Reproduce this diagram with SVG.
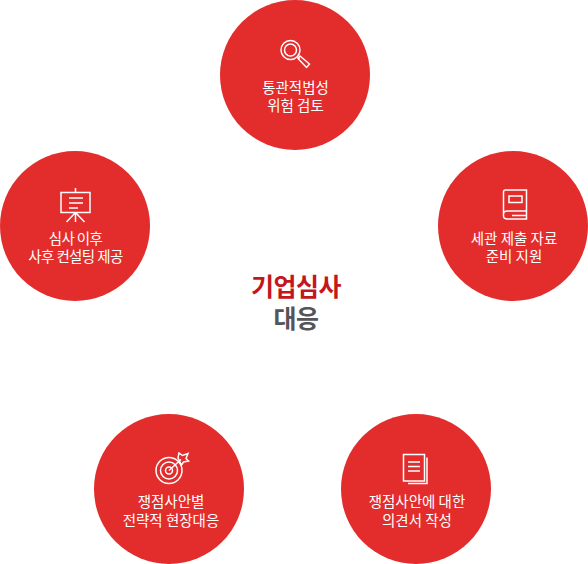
<svg xmlns="http://www.w3.org/2000/svg" width="588" height="564" viewBox="0 0 588 564">
<style>
.c{fill:#e32d2c}
.t{font-family:"Noto Sans CJK KR","Noto Sans",sans-serif;font-size:14.500px;fill:#fff;text-anchor:middle}
.n{letter-spacing:-.6px}
.i{fill:none;stroke:#fff;stroke-width:1.5}
.h{font-family:"Noto Sans CJK KR","Noto Sans",sans-serif;font-size:25px;font-weight:700;text-anchor:middle;letter-spacing:-.5px}
</style>
<g id="connectors"></g>
<g id="center"><text class="h" x="296" y="296" fill="#c4161c">기업심사</text><text class="h" x="296" y="328" fill="#555459" font-weight="500">대응</text></g>
<g id="node-top"><circle class="c" cx="295" cy="75" r="75"/>
<g class="i"><circle cx="290.500" cy="50" r="9.500"/><circle cx="290.500" cy="50" r="6"/><path d="M297.500 57l2 2M300 56l9.500 8-3 3.500-8.500-9z"/></g>
<text class="t" x="295.500" y="92.500">통관적법성</text><text class="t" x="295.500" y="110.500">위험 검토</text></g>
<g id="node-right"><circle class="c" cx="513" cy="226" r="75"/>
<g class="i"><path d="M503.500 214v-22q0-2 2-2h21v29h-19q-4 0-4-3v-2q0-3 4-3h19"/><path d="M509 196h13v6.500h-13zM512 215.500h14"/></g>
<text class="t" x="514" y="243.500">세관 제출 자료</text><text class="t" x="514" y="261.500">준비 지원</text></g>
<g id="node-left"><circle class="c" cx="75" cy="226" r="75"/>
<g class="i"><path d="M61 192.500h29v20h-29zM75.500 188v4.500M75.500 212.500v9.500M75.500 212.500l-9 9.500M75.500 212.500l9 9.500M69 198h14M69 203h14M69 208h9"/></g>
<text class="t n" x="75.500" y="243.500">심사 이후</text><text class="t n" x="75.500" y="261.500">사후 컨설팅 제공</text></g>
<g id="node-bottom-left"><circle class="c" cx="169" cy="489" r="75"/>
<g class="i"><circle cx="169" cy="470.500" r="13"/><circle cx="169" cy="470.500" r="8.500"/><circle cx="169" cy="470.500" r="3.500"/><path d="M169 470.500l12-11M178 458l1-5 3.500 2.500 5.500-2-2 5 2.500 2.500-5 1-2 3z"/></g>
<text class="t" x="171" y="507">쟁점사안별</text><text class="t" x="171" y="526">전략적 현장대응</text></g>
<g id="node-bottom-right"><circle class="c" cx="416" cy="489" r="75"/>
<g class="i"><path d="M403.500 454.500h21v26.500h-21zM427 457.500v26h-19M408 462h12M408 466.500h12M408 471h12"/></g>
<text class="t" x="417" y="507">쟁점사안에 대한</text><text class="t" x="417" y="526">의견서 작성</text></g>
</svg>
